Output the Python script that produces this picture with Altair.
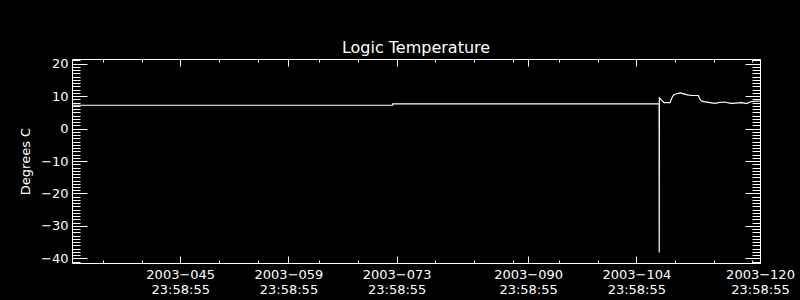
import altair as alt
import pandas as pd

# Time of day of every tick label, 23:58:55, as a fraction of a day
TOD = (23 * 3600 + 58 * 60 + 55) / 86400.0

# Day of year (2003, fractional) and logic temperature (deg C)
day = [31.99925, 73.48, 73.50, 107.95, 107.965, 107.98, 108.29, 108.58, 109.36,
       109.62, 109.80, 110.01, 110.65, 111.17, 111.60, 112.17, 113.02, 113.24,
       113.54, 114.31, 115.18, 115.61, 116.48, 116.90, 117.34, 118.64, 119.28,
       119.71, 120.14, 120.99925]
temp = [7.2, 7.2, 7.6, 7.6, -38.2, 9.5, 8.7, 8.0, 8.0,
        9.6, 10.3, 10.6, 11.0, 10.7, 10.4, 10.2, 10.2, 9.0,
        8.4, 8.1, 7.8, 8.0, 8.2, 7.9, 7.8, 8.0, 7.7,
        8.2, 8.4, 8.5]

# Tick label days (day of year) and tick values
x_major_days = [45, 59, 73, 90, 104, 120]
x_minor_days = [35, 40, 50, 55, 63, 68, 78, 83, 88, 94, 99, 109, 114, 119]
y_major = [-40, -30, -20, -10, 0, 10, 20]
y_minor = list(range(-41, 22))

x_domain = [31 + TOD, 120 + TOD]
y_domain = [-41.42, 21.45]

df = pd.DataFrame({"t": day, "temp": temp})

x_major = [d + TOD for d in x_major_days]
x_minor = [d + TOD for d in x_minor_days]

FONT = "DejaVu Sans"
W, H = 688, 204

xscale = alt.Scale(domain=x_domain, nice=False, zero=False)
yscale = alt.Scale(domain=y_domain, nice=False, zero=False)

common = dict(grid=False, tickColor="white", domainColor="white", labelColor="white",
              titleColor="white", tickWidth=1, domainWidth=1, title=None)


def tick_axis(orient, values, size):
    return alt.Axis(orient=orient, values=values, labels=False, domain=False, ticks=True,
                    tickSize=size, offset=-size, **common)


def frame_axis(orient):
    return alt.Axis(orient=orient, labels=False, ticks=False, tickSize=0, domain=True, **common)


label_expr = "['2003\u2212' + format(floor(datum.value), '03d'), '23:58:55']"

x_label_axis = alt.Axis(orient="bottom", values=x_major, ticks=False, tickSize=0, domain=True,
                        labelExpr=label_expr, labelFont=FONT, labelFontSize=13,
                        labelLineHeight=15, labelPadding=5, labelFlush=False,
                        labelOverlap=False, labelBaseline="top", **common)

yc = dict(common)
yc.pop("title")
y_label_axis = alt.Axis(orient="left", values=y_major, ticks=False, tickSize=0, domain=True,
                        labelFont=FONT, labelFontSize=13, labelPadding=4,
                        labelBaseline="middle", labelOverlap=False, labelFlush=False,
                        title="Degrees C", titleFont=FONT, titleFontSize=13,
                        titleFontWeight="normal", titleX=-47, titleY=H / 2,
                        titleBaseline="middle", titleAlign="center", titleAngle=270, **yc)


def layer(xaxis, yaxis, visible=False):
    return alt.Chart(df).mark_line(
        color="white", strokeWidth=1.2, opacity=1 if visible else 0
    ).encode(
        x=alt.X("t:Q", scale=xscale, axis=xaxis),
        y=alt.Y("temp:Q", scale=yscale, axis=yaxis),
    )


layers = [
    layer(x_label_axis, y_label_axis, visible=True),
    layer(tick_axis("bottom", x_major, 7), tick_axis("left", y_major, 15)),
    layer(tick_axis("bottom", x_minor, 3), tick_axis("left", y_minor, 8)),
    layer(frame_axis("top"), frame_axis("right")),
    layer(tick_axis("top", x_major, 7), tick_axis("right", y_major, 15)),
    layer(tick_axis("top", x_minor, 3), tick_axis("right", y_minor, 8)),
]

chart = alt.layer(*layers).resolve_axis(
    x="independent", y="independent"
).properties(
    width=W, height=H,
    title=alt.TitleParams("Logic Temperature", color="white", font=FONT, fontSize=16,
                          fontWeight="normal", offset=-11, baseline="alphabetic",
                          anchor="middle", frame="group"),
    autosize=alt.AutoSizeParams(type="none"),
    padding={"left": 72, "top": 59, "right": 40, "bottom": 37},
    background="black",
).configure_view(stroke="transparent")

chart.save("out.html", embed_options={"renderer": "svg", "actions": False})
